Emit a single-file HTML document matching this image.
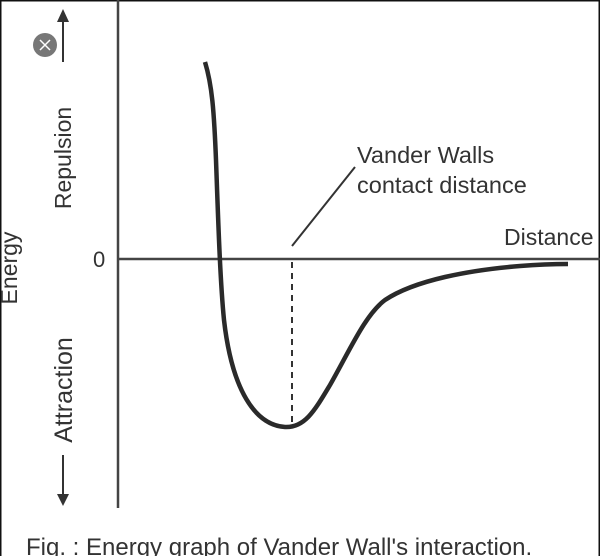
<!DOCTYPE html>
<html><head><style>
html,body{margin:0;padding:0;background:#fff;overflow:hidden;}
svg{display:block;}
text{font-family:"Liberation Sans",sans-serif;fill:#333;}
</style></head><body>
<svg width="600" height="556" viewBox="0 0 600 556" xmlns="http://www.w3.org/2000/svg">
<rect x="0" y="0" width="600" height="556" fill="#fff"/>
<rect x="0.5" y="0.5" width="599" height="600" fill="none" stroke="#111" stroke-width="2"/>
<line x1="118" y1="0" x2="118" y2="508" stroke="#444" stroke-width="2.5"/>
<line x1="118" y1="259" x2="600" y2="259" stroke="#444" stroke-width="2.5"/>
<path d="M205,62 C212,85 214,110 216,160 C218,215 220,280 224,320 C232,390 255,425 285,427 C305,428 315,410 330,385 C350,350 365,315 385,300 C415,280 470,270 520,266 C545,264 560,264 568,264" fill="none" stroke="#2a2a2a" stroke-width="4.5"/>
<line x1="292" y1="262" x2="292" y2="425" stroke="#333" stroke-width="2" stroke-dasharray="6,5"/>
<line x1="292" y1="246" x2="355" y2="167" stroke="#333" stroke-width="2"/>
<text x="357" y="163" font-size="23.5">Vander Walls</text>
<text x="357" y="193" font-size="23.5">contact distance</text>
<text x="504" y="245" font-size="23">Distance</text>
<text x="93" y="267" font-size="22">0</text>
<text transform="translate(17,268) rotate(-90)" font-size="23" text-anchor="middle">Energy</text>
<text transform="translate(71,158) rotate(-90)" font-size="23" text-anchor="middle">Repulsion</text>
<text transform="translate(72,390) rotate(-90)" font-size="25" text-anchor="middle">Attraction</text>
<line x1="63" y1="62" x2="63" y2="20" stroke="#333" stroke-width="2"/>
<polygon points="57,22 69,22 63,9" fill="#333"/>
<line x1="63" y1="455" x2="63" y2="495" stroke="#333" stroke-width="2"/>
<polygon points="57,494 69,494 63,506" fill="#333"/>
<circle cx="45" cy="45" r="12" fill="#777"/>
<path d="M40,40 L50,50 M50,40 L40,50" stroke="#fff" stroke-width="1.5"/>
<text x="26" y="555" font-size="24">Fig. : Energy graph of Vander Wall's interaction.</text>
</svg>
</body></html>
